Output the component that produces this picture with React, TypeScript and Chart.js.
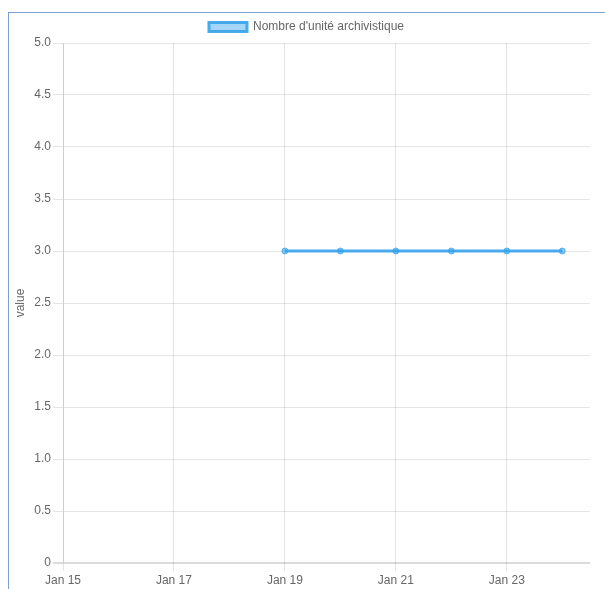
import React, { useEffect, useRef } from "react";
import { Chart, registerables } from "chart.js";

Chart.register(...registerables);

const days = [19, 20, 21, 22, 23, 24];
const values = [3, 3, 3, 3, 3, 3];
const xTicks = [15, 17, 19, 21, 23];
const seriesLabel = "Nombre d'unité archivistique";
const yTitle = "value";

const FONT = { family: "'Liberation Sans', Arial, sans-serif", size: 12 };

export default function App() {
  const ref = useRef<HTMLCanvasElement | null>(null);
  useEffect(() => {
    if (!ref.current) return;
    const chart = new Chart(ref.current, {
      type: "line",
      data: {
        datasets: [
          {
            label: seriesLabel,
            data: days.map((d, i) => ({ x: d, y: values[i] })),
            borderColor: "rgba(54,162,235,0.9)",
            backgroundColor: "rgba(54,162,235,0.45)",
            pointBackgroundColor: "rgba(54,162,235,0.6)",
            pointBorderColor: "rgba(54,162,235,0.7)",
            borderWidth: 3,
            pointRadius: 3,
            pointBorderWidth: 1,
            fill: false,
            tension: 0,
          },
        ],
      },
      options: {
        animation: false,
        responsive: false,
        maintainAspectRatio: false,
        layout: { padding: { left: 14, right: 15, top: 0, bottom: 0 } },
        plugins: {
          legend: {
            labels: {
              font: FONT,
              color: "#666",
              boxWidth: 38,
              boxHeight: 9,
              padding: 8,
            },
          },
          tooltip: { enabled: false },
        },
        scales: {
          x: {
            type: "linear",
            min: 15,
            max: 24.5,
            afterBuildTicks: (s: any) => {
              s.ticks = xTicks.map((v) => ({ value: v }));
            },
            afterFit: (s: any) => {
              s.height = 26;
            },
            ticks: {
              callback: (v: any) => "Jan " + v,
              maxRotation: 0,
              autoSkip: false,
              color: "#666",
              font: FONT,
              padding: 2,
            },
            grid: { color: "rgba(0,0,0,0.1)", tickLength: 8 },
            border: { display: false },
          },
          y: {
            min: 0,
            max: 5,
            afterFit: (s: any) => {
              s.width = 40;
            },
            ticks: {
              stepSize: 0.5,
              callback: (v: any) => (v === 0 ? "0" : Number(v).toFixed(1)),
              color: "#666",
              font: FONT,
              padding: 2,
            },
            title: {
              display: true,
              text: yTitle,
              color: "#666",
              font: FONT,
              padding: { top: -10, bottom: 0 },
            },
            grid: {
              color: (c: any) => (c.tick && c.tick.value === 0 ? "rgba(0,0,0,0.14)" : "rgba(0,0,0,0.1)"),
              lineWidth: (c: any) => (c.tick && c.tick.value === 0 ? 2 : 1),
              tickLength: 10,
            },
            border: { color: "rgba(0,0,0,0.1)" },
          },
        },
      },
    });
    return () => chart.destroy();
  }, []);
  return (
    <div
      style={{
        position: "absolute",
        left: 8,
        top: 12,
        width: 597,
        height: 577,
        borderLeft: "1px solid #7d9ed3",
        borderTop: "1px solid #7d9ed3",
      }}
    >
      <canvas ref={ref} width={596} height={576} style={{ display: "block" }} />
    </div>
  );
}
